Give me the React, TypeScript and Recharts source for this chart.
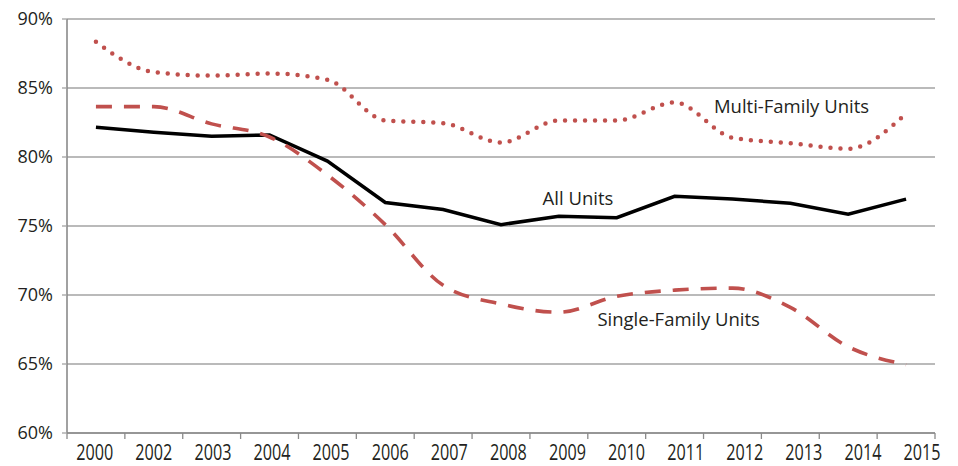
import React from 'react';
import { LineChart, Line, XAxis, YAxis, CartesianGrid, ReferenceDot } from 'recharts';

// categories as printed on the original axis (2001 is not labelled)
const years = ['2000', '2002', '2003', '2004', '2005', '2006', '2007', '2008', '2009', '2010', '2011', '2012', '2013', '2014', '2015'];

// share of units, percent
const allUnits = [82.15, 81.8, 81.5, 81.6, 79.7, 76.7, 76.2, 75.1, 75.7, 75.6, 77.15, 76.95, 76.65, 75.85, 76.95];
const multiFamily = [88.35, 86.15, 85.9, 86.05, 85.6, 82.65, 82.45, 81.05, 82.65, 82.65, 83.95, 81.4, 81.0, 80.6, 83.15];
const singleFamily = [83.65, 83.65, 82.4, 81.45, 78.7, 75.1, 70.7, 69.35, 68.75, 69.9, 70.35, 70.5, 69.1, 66.25, 64.95];

const yTicks = [60, 65, 70, 75, 80, 85, 90];

// in-chart series labels: [text, category position, value]
const seriesLabels: [string, number, number][] = [
  ['Multi-Family Units', 12.02, 83.65],
  ['All Units', 8.33, 77.0],
  ['Single-Family Units', 10.07, 68.2],
];

const data = years.map((year, i) => ({
  i,
  year,
  all: allUnits[i],
  multi: multiFamily[i],
  single: singleFamily[i],
}));

// tick marks sit on the boundaries between categories
const bandEdges = [...years.map((_, i) => i - 0.5), years.length - 0.5];
const labelTicks = years.map((_, i) => i);

const TEXT = '#231f20';
const RED = '#c0504d';
const FONT = '"Open Sans", sans-serif';

const YearTick = (props: any) => {
  const { x, y, payload } = props;
  return (
    <text
      x={x}
      y={y}
      dy={18}
      textAnchor="middle"
      fontFamily={FONT}
      fontSize={22}
      fill={TEXT}
      textLength={37}
      lengthAdjust="spacingAndGlyphs"
    >
      {years[payload.value]}
    </text>
  );
};

const NoTick = () => <g />;

export default function App() {
  return (
    <div style={{ position: 'absolute', left: 0, top: 0, background: '#fff' }}>
      <LineChart width={958} height={466} data={data} margin={{ top: 19, right: 23, left: 0, bottom: 31 }}>
        <CartesianGrid vertical={false} stroke="#a3a3a3" strokeWidth={1.3} />
        <XAxis
          xAxisId="bands"
          dataKey="i"
          type="number"
          domain={[-0.5, years.length - 0.5]}
          ticks={bandEdges}
          interval={0}
          height={1}
          tick={<NoTick />}
          tickSize={6}
          tickLine={{ stroke: '#8a8a8a', strokeWidth: 1.3 }}
          axisLine={{ stroke: '#8a8a8a', strokeWidth: 1.6 }}
          allowDataOverflow
        />
        <XAxis
          xAxisId="labels"
          dataKey="i"
          type="number"
          domain={[-0.47, 14.22]}
          ticks={labelTicks}
          interval={0}
          height={1}
          tick={<YearTick />}
          tickLine={false}
          axisLine={false}
          allowDataOverflow
        />
        <YAxis
          domain={[60, 90]}
          ticks={yTicks}
          interval={0}
          width={67}
          tickSize={5}
          tickMargin={9}
          tickFormatter={(v: number) => `${v}%`}
          tick={{ fontFamily: FONT, fontSize: 18, fill: TEXT }}
          tickLine={{ stroke: '#a3a3a3', strokeWidth: 1.3 }}
          axisLine={{ stroke: '#8a8a8a', strokeWidth: 1.6 }}
          allowDataOverflow
        />
        <Line
          xAxisId="bands"
          dataKey="all"
          type="linear"
          stroke="#000"
          strokeWidth={3.5}
          dot={false}
          isAnimationActive={false}
        />
        <Line
          xAxisId="bands"
          dataKey="single"
          type="monotone"
          stroke={RED}
          strokeWidth={3.6}
          strokeDasharray="16 12"
          dot={false}
          isAnimationActive={false}
        />
        <Line
          xAxisId="bands"
          dataKey="multi"
          type="monotone"
          stroke={RED}
          strokeWidth={4.5}
          strokeDasharray="0 10"
          strokeLinecap="round"
          dot={false}
          isAnimationActive={false}
        />
        {seriesLabels.map(([text, x, y]) => (
          <ReferenceDot
            key={text}
            xAxisId="bands"
            x={x}
            y={y}
            r={0}
            fill="none"
            stroke="none"
            label={{ value: text, position: 'center', fill: TEXT, fontSize: 18.5, fontFamily: FONT }}
          />
        ))}
      </LineChart>
    </div>
  );
}
